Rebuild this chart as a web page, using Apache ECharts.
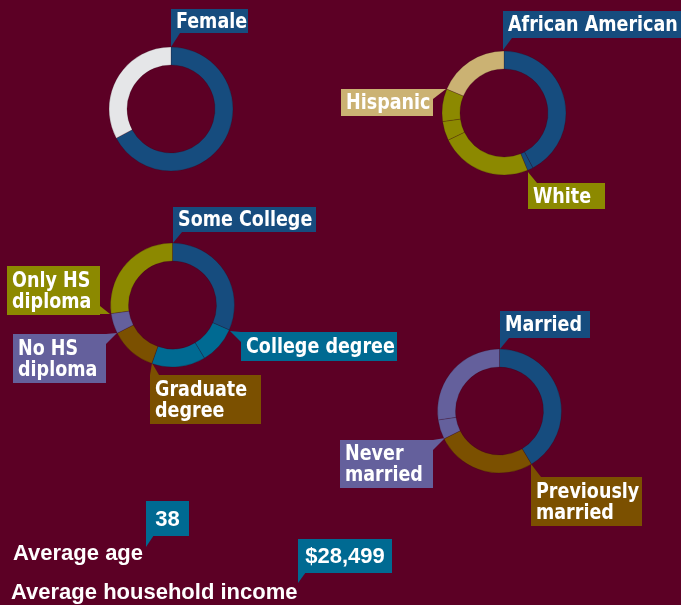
<!DOCTYPE html>
<html>
<head>
<meta charset="utf-8">
<script src="https://cdn.jsdelivr.net/npm/echarts@6/dist/echarts.min.js"></script>
<style>
  html, body { margin: 0; padding: 0; background: #5c0025; }
  #main { width: 681px; height: 605px; }
</style>
</head>
<body>
<div id="main"></div>
<script>
// 数据
const genderNames = ['Female', 'Male']
const genderValues = [67.2, 32.8]

const raceNames = ['African American', 'Other', 'White', 'Asian', 'Multiracial', 'Hispanic']
const raceValues = [42.3, 1.5, 24.0, 5.0, 8.5, 18.7]

const eduNames = ['Some College', 'College degree', 'Associate degree', 'Graduate degree', 'No HS diploma', 'Only HS diploma']
const eduValues = [31.6, 9.8, 14.0, 12.1, 5.3, 27.2]

const maritalNames = ['Married', 'Previously married', 'Separated', 'Never married']
const maritalValues = [41.4, 26.2, 5.1, 27.3]

const averageAge = '38'
const averageIncome = '$28,499'

const C = {
  bg: '#5c0025',
  blue: '#164c7e',
  grey: '#e5e6e8',
  tan: '#cbb273',
  olive: '#8c8900',
  teal: '#006a92',
  brown: '#7b5000',
  purple: '#64609c'
}

const genderColors = [C.blue, C.grey]
const raceColors = [C.blue, C.blue, C.olive, C.olive, C.olive, C.tan]
const eduColors = [C.blue, C.teal, C.teal, C.brown, C.purple, C.olive]
const maritalColors = [C.blue, C.brown, C.purple, C.purple]

// 窄字体 + 纵向拉伸, 接近原图的字形
const labelFont = 'bold 19.5px "DejaVu Sans Condensed", "DejaVu Sans", sans-serif'
const labelStretch = 1.12
const wideFont = 'bold 22px "Liberation Sans", Arial, sans-serif'

function donut (center, names, values, colors) {
  return {
    type: 'pie',
    center: center,
    radius: [44, 62],
    startAngle: 90,
    clockwise: true,
    silent: true,
    label: { show: false },
    labelLine: { show: false },
    emphasis: { disabled: true },
    itemStyle: { borderColor: 'rgba(40,0,15,0.35)', borderWidth: 0.6 },
    data: names.map((n, i) => ({ name: n, value: values[i], itemStyle: { color: colors[i] } }))
  }
}

// 标签框: [x, y, w, h], 文字, 颜色, 指针
const callouts = [
  { box: [171, 9, 77, 24], text: 'Female', color: C.blue, tip: [[171, 33], [171, 47], [180, 33]] },
  { box: [503, 11, 178, 27], text: 'African American', color: C.blue, tip: [[503, 38], [503, 50], [512, 38]] },
  { box: [341, 89, 92, 27], text: 'Hispanic', color: C.tan, tip: [[433, 89], [446, 89], [433, 99]] },
  { box: [528, 183, 77, 26], text: 'White', color: C.olive, tip: [[528, 172], [528, 183], [537, 183]] },
  { box: [173, 207, 143, 25], text: 'Some College', color: C.blue, tip: [[173, 232], [173, 243], [182, 232]] },
  { box: [241, 332, 156, 29], text: 'College degree', color: C.teal, tip: [[230, 331], [241, 332], [241, 342]] },
  { box: [7, 266, 93, 49], text: 'Only HS\ndiploma', color: C.olive, tip: [[100, 306], [110, 314], [100, 314]] },
  { box: [13, 334, 93, 49], text: 'No HS\ndiploma', color: C.purple, tip: [[106, 334], [117, 333], [106, 344]] },
  { box: [150, 375, 111, 49], text: 'Graduate\ndegree', color: C.brown, tip: [[152, 363], [150, 375], [159, 375]] },
  { box: [500, 311, 90, 27], text: 'Married', color: C.blue, tip: [[500, 338], [500, 349], [509, 338]] },
  { box: [531, 477, 111, 49], text: 'Previously\nmarried', color: C.brown, tip: [[531, 464], [531, 477], [541, 477]] },
  { box: [340, 440, 93, 48], text: 'Never\nmarried', color: C.purple, tip: [[433, 440], [445, 438], [433, 450]] },
  { box: [146, 501, 43, 35], text: averageAge, color: C.teal, tip: [[146, 535], [146, 547], [154, 535]], center: true, wide: true },
  { box: [298, 539, 94, 34], text: averageIncome, color: C.teal, tip: [[298, 572], [298, 583], [306, 572]], center: true, wide: true }
]

const graphics = []
callouts.forEach(c => {
  const [x, y, w, h] = c.box
  graphics.push({ type: 'polygon', shape: { points: c.tip }, style: { fill: c.color }, silent: true })
  graphics.push({ type: 'rect', shape: { x: x, y: y, width: w, height: h }, style: { fill: c.color }, silent: true })
  graphics.push({
    type: 'text',
    x: c.center ? x + w / 2 : x + 5,
    y: y + h / 2 + 1,
    scaleY: c.wide ? 1 : labelStretch,
    silent: true,
    style: {
      text: c.text,
      fill: '#ffffff',
      font: c.wide ? wideFont : labelFont,
      lineHeight: c.wide ? 22 : 21 / labelStretch,
      align: c.center ? 'center' : 'left',
      verticalAlign: 'middle'
    }
  })
})

graphics.push({
  type: 'text', x: 13, y: 554, silent: true,
  style: { text: 'Average age', fill: '#ffffff', font: wideFont, align: 'left', verticalAlign: 'middle' }
})
graphics.push({
  type: 'text', x: 11, y: 593, silent: true,
  style: { text: 'Average household income', fill: '#ffffff', font: wideFont, align: 'left', verticalAlign: 'middle' }
})

const myChart = echarts.init(document.getElementById('main'))
myChart.setOption({
  backgroundColor: C.bg,
  animation: false,
  series: [
    donut([171, 109], genderNames, genderValues, genderColors),
    donut([504, 113], raceNames, raceValues, raceColors),
    donut([172.5, 305], eduNames, eduValues, eduColors),
    donut([499.5, 411], maritalNames, maritalValues, maritalColors)
  ],
  graphic: graphics
})
</script>
</body>
</html>
